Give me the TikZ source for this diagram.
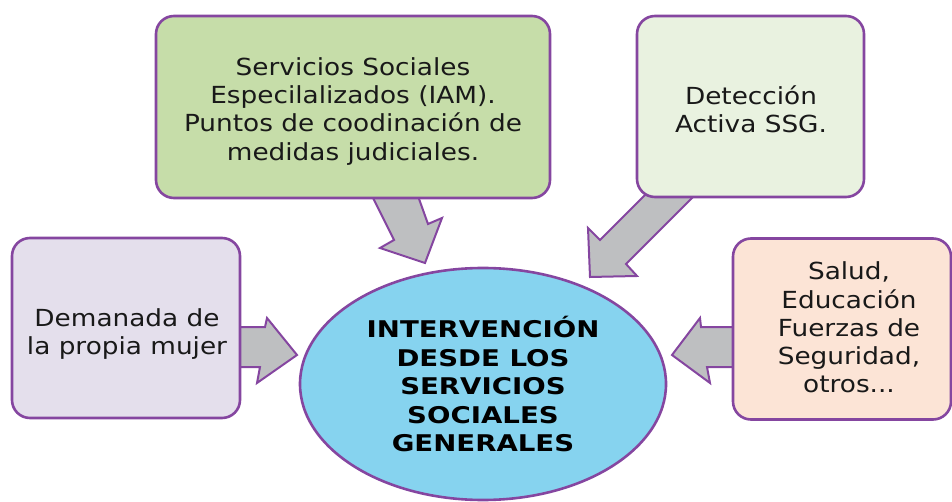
\documentclass[tikz,border=0pt]{standalone}
\usepackage{fontspec}
\setmainfont{DejaVu Sans}
\newfontfamily\regfont{DejaVu Sans}[FakeStretch=1.12]
\newfontfamily\boldfam{DejaVu Sans}[FakeStretch=1.2]
\definecolor{bordc}{HTML}{8546A0}
\definecolor{greenf}{HTML}{C6DDA9}
\definecolor{lgreenf}{HTML}{E9F2E0}
\definecolor{lavf}{HTML}{E4DFEC}
\definecolor{peachf}{HTML}{FCE4D6}
\definecolor{ellf}{HTML}{86D3EF}
\definecolor{arrf}{HTML}{BEBFC1}
\begin{document}
\begin{tikzpicture}[x=1pt,y=-1pt,
  boxstyle/.style={draw=bordc, line width=2.6pt, rounded corners=18pt, inner sep=0pt},
  txtstyle/.style={inner sep=0pt, align=center, text=black!90, font=\regfont\fontsize{23.5}{28.3}\selectfont},
  blockarrow/.style={draw=bordc, fill=arrf, line width=2pt, line join=miter}]
\useasboundingbox (0,0) rectangle (952,502);
% block arrows (behind)
\draw[blockarrow] (372,196) -- (418,196) -- (428,224) -- (442,218) -- (425,263) -- (380,248) -- (394,240) -- cycle;
\draw[blockarrow] (645,195) -- (693,197) -- (626,264) -- (637,276) -- (590,277) -- (588,228) -- (600,240) -- cycle;
\draw[blockarrow] (236,327) -- (265,327) -- (267,318) -- (297,355) -- (257,383) -- (260,367) -- (236,367) -- cycle;
\draw[blockarrow] (737,327) -- (701,327) -- (700,318) -- (672,355) -- (710,383) -- (707,367) -- (737,367) -- cycle;
% boxes
\node[boxstyle, fill=greenf, minimum width=394pt, minimum height=182pt] (ssesp) at (353,107) {};
\node[boxstyle, fill=lgreenf, minimum width=227pt, minimum height=181pt] (detec) at (750.5,106.5) {};
\node[boxstyle, fill=lavf, minimum width=228pt, minimum height=180pt] (deman) at (126,328) {};
\node[boxstyle, fill=peachf, minimum width=218pt, minimum height=181pt] (salud) at (842,329) {};
% texts
\node[txtstyle] (tssesp) at (353,111.3)
  {Servicios Sociales\\Especilalizados (IAM).\\Puntos de coodinación de\\medidas judiciales.};
\node[txtstyle] (tdetec) at (751,109) {Detección\\Activa SSG.};
\node[txtstyle] (tdeman) at (127,334.3) {Demanada de\\la propia mujer};
\node[txtstyle] (tsalud) at (849,327.6) {Salud,\\Educación\\Fuerzas de\\Seguridad,\\otros...};
% central ellipse
\draw[draw=bordc, fill=ellf, line width=2.6pt] (483,384) ellipse [x radius=183, y radius=116];
\node[inner sep=0pt, align=center, font=\boldfam\bfseries\fontsize{23}{28.5}\selectfont] (centro) at (483,384.4)
  {INTERVENCIÓN\\DESDE LOS\\SERVICIOS\\SOCIALES\\GENERALES};
\end{tikzpicture}
\end{document}
